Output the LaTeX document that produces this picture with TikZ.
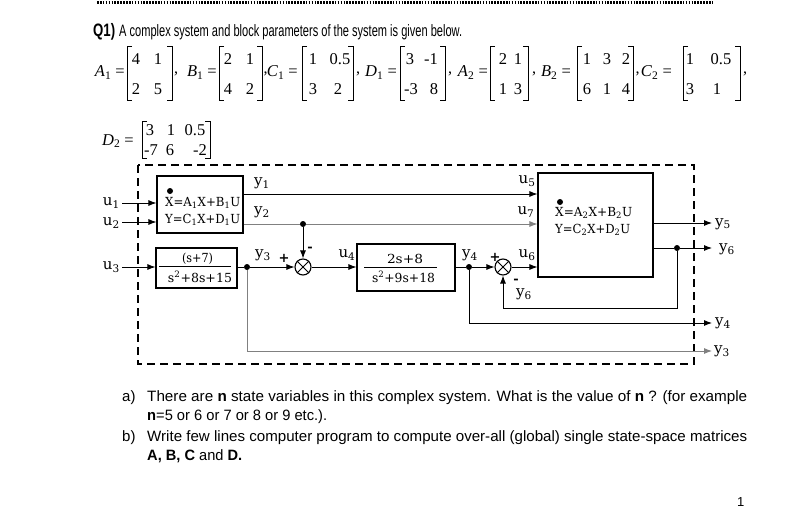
\documentclass[tikz,border=0pt]{standalone}
\usepackage{fontspec}
\setmainfont{Liberation Sans}
\newfontfamily\serf{Liberation Serif}
\newfontfamily\diaf{DejaVu Serif}
\usepackage{graphicx}
\usetikzlibrary{arrows.meta}
\newcommand\fitto[2]{\resizebox{#1pt}{\height}{#2}}
\newcounter{ent}
\newcommand\mentry[3]{\stepcounter{ent}\node[mtx] (e\theent) at (#1,#2) {#3};}
\newcommand\mbrk[4]{%
  \draw[brk] ({#1+5},#3) -- (#1,#3) -- (#1,#4) -- ({#1+5},#4);
  \draw[brk] ({#2-5},#3) -- (#2,#3) -- (#2,#4) -- ({#2-5},#4);}
\begin{document}
\begin{tikzpicture}[x=1pt,y=-1pt,
  blk/.style={draw, line width=1.1pt, inner sep=0pt},
  ln/.style={line width=0.9pt},
  gln/.style={line width=0.9pt, draw=black!50},
  arr/.style={-{Latex[length=8pt,width=6pt]}},
  dotn/.style={circle, fill, inner sep=0pt, minimum size=6pt},
  sumn/.style={circle, draw, line width=1.1pt, minimum size=16pt, inner sep=0pt},
  lab/.style={font=\diaf\fontsize{15}{15}\selectfont, inner sep=0pt},
  sgn/.style={font=\diaf\bfseries\fontsize{13}{13}\selectfont, inner sep=0pt},
  btxt/.style={font=\diaf\fontsize{12.5}{12.5}\selectfont, inner sep=0pt},
  brk/.style={line width=0.8pt},
  mtx/.style={font=\serf\fontsize{16.5}{16.5}\selectfont, inner sep=0pt, text height=11pt, text depth=0pt},
  mlab/.style={font=\serf\fontsize{16.5}{16.5}\selectfont, inner sep=0pt, anchor=base east},
  comma/.style={font=\serf\fontsize{16}{16}\selectfont, inner sep=0pt, anchor=base west},
  body/.style={font=\fontsize{15}{15}\selectfont, inner sep=0pt, anchor=base west},
]
\useasboundingbox (0,0) rectangle (810,516);
\fill[white] (0,0) rectangle (810,516);

% top dotted rule
\draw[line width=3pt, dash pattern=on 1.6pt off 1.3pt] (97,3) -- (712,3);

% title
\node[body, font=\bfseries\fontsize{18}{18}\selectfont] (q1) at (93,37) {\fitto{22}{Q1)}};
\node[body, font=\fontsize{16.5}{16.5}\selectfont] (qt) at (119,37) {\fitto{343}{A complex system and block parameters of the system is given below.}};

% matrices row 1
\node[mlab] (lA1) at (125,77) {\textit{A}\textsubscript{1} =};
\mbrk{127}{172}{46}{100}
\mentry{136}{59}{4}\mentry{158}{59}{1}\mentry{136}{89}{2}\mentry{158}{89}{5}
\node[comma] (c1) at (174,74) {,};

\node[mlab] (lB1) at (217,77) {\textit{B}\textsubscript{1} =};
\mbrk{219}{262}{46}{100}
\mentry{228}{59}{2}\mentry{250}{59}{1}\mentry{228}{89}{4}\mentry{250}{89}{2}
\node[comma] (c2) at (263.5,74) {,};

\node[mlab] (lC1) at (298,77) {\textit{C}\textsubscript{1} =};
\mbrk{302}{353}{46}{100}
\mentry{313}{59}{1}\mentry{340}{59}{0.5}\mentry{313}{89}{3}\mentry{338}{89}{2}
\node[comma] (c3) at (356,74) {,};

\node[mlab] (lD1) at (397,77) {\textit{D}\textsubscript{1} =};
\mbrk{400}{445}{46}{100}
\mentry{410}{59}{3}\mentry{431}{59}{-1}\mentry{411}{89}{-3}\mentry{434}{89}{8}
\node[comma] (c4) at (448,74) {,};

\node[mlab] (lA2) at (488,77) {\textit{A}\textsubscript{2} =};
\mbrk{490}{528}{46}{100}
\mentry{503}{59}{2}\mentry{518}{59}{1}\mentry{503}{89}{1}\mentry{518}{89}{3}
\node[comma] (c5) at (532,74) {,};

\node[mlab] (lB2) at (571,77) {\textit{B}\textsubscript{2} =};
\mbrk{577}{633}{46}{100}
\mentry{587}{59}{1}\mentry{607}{59}{3}\mentry{626}{59}{2}\mentry{587}{89}{6}\mentry{607}{89}{1}\mentry{626}{89}{4}
\node[comma] (c6) at (635.5,74) {,};

\node[mlab] (lC2) at (672,77) {\textit{C}\textsubscript{2} =};
\mbrk{683}{740}{46}{100}
\mentry{690}{59}{1}\mentry{721}{59}{0.5}\mentry{690}{89}{3}\mentry{717}{89}{1}
\node[comma] (c7) at (743,74) {,};

% D2
\node[mlab] (lD2) at (134,145) {\textit{D}\textsubscript{2} =};
\mbrk{142}{210}{121}{158}
\mentry{150}{130}{3}\mentry{171}{130}{1}\mentry{195}{130}{0.5}
\mentry{151}{150}{-7}\mentry{170}{150}{6}\mentry{200}{150}{-2}

% dashed system boundary
\draw[line width=1.4pt, dash pattern=on 8pt off 5pt] (138,165) rectangle (694,364);

% blocks
\node[blk, minimum width=86pt, minimum height=57pt] (b1) at (200,204.5) {};
\node[blk, minimum width=81pt, minimum height=40pt] (b3) at (196.5,268) {};
\node[blk, minimum width=98pt, minimum height=47pt] (b4) at (406,267.5) {};
\node[blk, minimum width=115pt, minimum height=104pt] (b2) at (595.5,225) {};

% block 1 contents
\node[dotn] (d1) at (170,191) {};
\node[btxt, anchor=west] (t1a) at (165,203) {\fitto{75}{X=A\textsubscript{1}X+B\textsubscript{1}U}};
\node[btxt, anchor=west] (t1b) at (165,220) {\fitto{75}{Y=C\textsubscript{1}X+D\textsubscript{1}U}};
% block 2 contents
\node[dotn] (d2) at (560,202) {};
\node[btxt, anchor=west] (t2a) at (555,213) {\fitto{77}{X=A\textsubscript{2}X+B\textsubscript{2}U}};
\node[btxt, anchor=west] (t2b) at (555,230) {\fitto{75}{Y=C\textsubscript{2}X+D\textsubscript{2}U}};
% block 3 contents
\node[btxt] (n3) at (197.5,259) {\fitto{31}{(s+7)}};
\node[btxt] (m3) at (200,277) {\fitto{64}{s\textsuperscript{2}+8s+15}};
\draw[line width=0.7pt] (159,266) -- (231,266);
% block 4 contents
\node[btxt] (n4) at (405,259) {\fitto{36}{2s+8}};
\node[btxt] (m4) at (403.5,277) {\fitto{63}{s\textsuperscript{2}+9s+18}};
\draw[line width=0.7pt] (364,267) -- (437,267);

% summing junctions
\node[sumn] (s1) at (303,267) {};
\node[sumn] (s2) at (503,267) {};
\draw[line width=1pt] (s1.north west) -- (s1.south east) (s1.north east) -- (s1.south west);
\draw[line width=1pt] (s2.north west) -- (s2.south east) (s2.north east) -- (s2.south west);

% branch dots
\node[dotn] (j2) at (303,224) {};
\node[dotn] (j3) at (247,267) {};
\node[dotn] (j4) at (469,267) {};
\node[dotn] (j6) at (677,248) {};

% helper coordinates
\coordinate (r1) at (0,194);
\coordinate (r2) at (0,224);
\coordinate (r3) at (0,267);
\coordinate (r5) at (0,223);
\coordinate (r6) at (0,248);
\coordinate (in1) at (122,203);
\coordinate (in2) at (122,222);
\coordinate (in3) at (122,267);
\coordinate (o5) at (712,223);
\coordinate (o6) at (712,248);
\coordinate (o4) at (712,323);
\coordinate (o3) at (712,351);
\coordinate (fb) at (677,308);

% inputs
\draw[ln,arr] (in1) -- (b1.west |- in1);
\draw[ln,arr] (in2) -- (b1.west |- in2);
\draw[ln,arr] (in3) -- (b3.west |- in3);

% connectors
\draw[ln,arr] (b1.east |- r1) -- (b2.west |- r1);
\draw[gln] (b1.east |- r2) -- (j2);
\draw[gln,arr] (j2) -- (b2.west |- r2);
\draw[ln,arr] (j2) -- (s1.north);
\draw[ln] (b3.east |- r3) -- (j3);
\draw[ln,arr] (j3) -- (s1.west);
\draw[ln,arr] (s1.east) -- (b4.west |- r3);
\draw[ln] (b4.east |- r3) -- (j4);
\draw[ln,arr] (j4) -- (s2.west);
\draw[ln,arr] (s2.east) -- (b2.west |- r3);
\draw[ln,arr] (b2.east |- r5) -- (o5);
\draw[ln] (b2.east |- r6) -- (j6);
\draw[ln,arr] (j6) -- (o6);
\draw[ln,arr] (j6) -- (fb) -| (s2.south);
\draw[ln,arr] (j4) |- (o4);
\draw[gln,arr] (j3) |- (o3);

% labels
\node[lab, anchor=east] (lu1) at (120,203) {u\textsubscript{1}};
\node[lab, anchor=east] (lu2) at (120,223) {u\textsubscript{2}};
\node[lab, anchor=east] (lu3) at (120,267) {u\textsubscript{3}};
\node[lab] (ly1) at (262,183) {y\textsubscript{1}};
\node[lab] (ly2) at (262,212) {y\textsubscript{2}};
\node[lab] (ly3) at (263,255) {y\textsubscript{3}};
\node[sgn] (p1) at (284,258) {+};
\node[sgn] (mi1) at (310,249) {-};
\node[lab] (lu4) at (347,255) {u\textsubscript{4}};
\node[lab] (lu5) at (527,181) {u\textsubscript{5}};
\node[lab] (lu7) at (526,212) {u\textsubscript{7}};
\node[lab] (lu6) at (527,255) {u\textsubscript{6}};
\node[lab] (ly4) at (470,255) {y\textsubscript{4}};
\node[sgn] (p2) at (495,257) {+};
\node[sgn] (mi2) at (516,281) {-};
\node[lab] (ly6b) at (524,294) {y\textsubscript{6}};
\node[lab, anchor=west] (ly5) at (715,224) {y\textsubscript{5}};
\node[lab, anchor=west] (ly6) at (719,249) {y\textsubscript{6}};
\node[lab, anchor=west] (ly4o) at (715,323) {y\textsubscript{4}};
\node[lab, anchor=west] (ly3o) at (714,351) {y\textsubscript{3}};

% questions
\node[body] (qa) at (122,401) {a)};
\node[body] (qa1) at (147,401) {\fitto{600}{There are \textbf{n} state variables in this complex system. What is the value of \textbf{n} ? (for example}};
\node[body] (qa2) at (147,420) {\fitto{180}{\textbf{n}=5 or 6 or 7 or 8 or 9 etc.).}};
\node[body] (qb) at (122,441) {b)};
\node[body] (qb1) at (147,441) {\fitto{600}{Write few lines computer program to compute over-all (global) single state-space matrices}};
\node[body] (qb2) at (147,460) {\fitto{95}{\textbf{A, B, C} and \textbf{D.}}};
\node[body, font=\fontsize{13}{13}\selectfont] (pg) at (737,506) {1};
\end{tikzpicture}
\end{document}
